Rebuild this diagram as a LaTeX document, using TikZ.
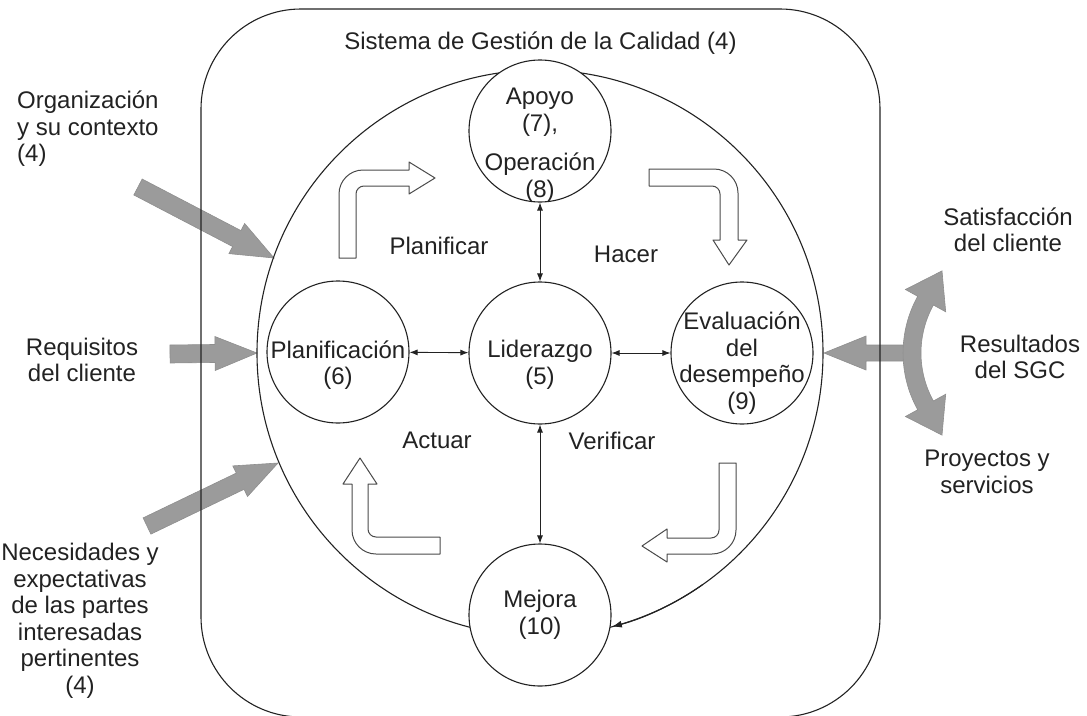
\documentclass[tikz,border=0pt]{standalone}
\usepackage{fontspec}
\setmainfont{Liberation Sans}
\usetikzlibrary{calc,arrows.meta}

\definecolor{ink}{HTML}{222222}
\definecolor{edge}{HTML}{4A4A4A}
\definecolor{bulkgray}{HTML}{9B9B9B}
\definecolor{bulkedge}{HTML}{8E8E8E}

\tikzset{
  txt/.style={font=\fontsize{24}{26.5}\selectfont, text=ink, align=center, inner sep=0pt},
  ring/.style={circle, draw=ink, line width=1.1pt, fill=white, minimum size=142pt, inner sep=0pt},
  cyc/.style={draw=ink, line width=1.1pt},
  frame/.style={draw=ink, line width=1.1pt},
  link/.style={draw=ink, line width=0.9pt, {Latex[length=8pt,width=6pt]}-{Latex[length=8pt,width=6pt]}},
  hollow/.style={draw=edge, line width=1pt, fill=white, line join=round},
  bulk/.style={fill=bulkgray, draw=bulkedge, line width=0.6pt, line join=miter},
}

% broad grey arrow from a tail coordinate to a tip coordinate
\newcommand\fatarrow[4]{% tail, tip, half shaft, half head
  \coordinate (#1-h) at ($(#2)!42pt!(#1)$);
  \path[bulk] ($(#1)!#3!90:(#2)$) -- ($(#1-h)!#3!90:(#2)$) -- ($(#1-h)!#4!90:(#2)$)
    -- (#2) -- ($(#1-h)!#4!-90:(#2)$) -- ($(#1-h)!#3!-90:(#2)$) -- ($(#1)!#3!-90:(#2)$) -- cycle;
}

\begin{document}
\begin{tikzpicture}[x=1pt,y=-1pt]
\useasboundingbox (0,0) rectangle (1087,715);

% inputs on the left
\coordinate (inOrgT) at (138,187); \coordinate (inOrg) at (274,258);
\coordinate (inReqT) at (170,354); \coordinate (inReq) at (257,353);
\coordinate (inNecT) at (147,526); \coordinate (inNec) at (278,463);
\fatarrow{inOrgT}{inOrg}{9pt}{17pt}
\fatarrow{inReqT}{inReq}{9pt}{17pt}
\fatarrow{inNecT}{inNec}{9pt}{17pt}

% results on the right
\coordinate (resT) at (915,353); \coordinate (resIn) at (824,353);
\fatarrow{resT}{resIn}{8pt}{17pt}
\path[bulk] (933.4,401) arc[start angle=151,end angle=209,radius=99]
  -- (945.7,311.8) -- (942,270.9) -- (905.4,289.5) -- (917.7,296.3)
  arc[start angle=209,end angle=151,radius=117]
  -- (905.4,416.5) -- (942,435.1) -- (945.7,394.2) -- cycle;

% quality management system frame
\begin{scope}
  \clip (0,0) rectangle (1087,715);
  \draw[frame, rounded corners=100pt] (201,9) rectangle (880,717);
\end{scope}
\node[txt] (title) at (540.5,43) {Sistema de Gestión de la Calidad (4)};

% PDCA cycle
\draw[cyc] (540,353) circle[radius=283];

\node[ring] (apoyo) at (540,131) {};
\node[ring] (lider) at (540,353) {};
\node[ring] (plan) at (338,352) {};
\node[ring] (eval) at (742,353) {};
\node[ring] (mejora) at (540,615) {};

\draw[cyc, -{Latex[length=10pt,width=7pt]}] (540,353) ++(55:283) arc[start angle=55,end angle=75.3,radius=283];

\draw[link] (lider) -- (plan);
\draw[link] (lider) -- (eval);
\draw[link] (lider) -- (apoyo);
\draw[link] (lider) -- (mejora);

% circle labels
\node[txt] (tApoyo) at (540,145) {Apoyo\\(7),\\[13pt]Operación\\(8)};
\node[txt] (tLider) at (540,365) {Liderazgo\\(5)};
\node[txt] (tPlan) at (338,365) {Planificación\\(6)};
\node[txt] (tEval) at (742,363) {Evaluación\\del\\desempeño\\(9)};
\node[txt] (tMejora) at (540,615) {Mejora\\(10)};

% bent hollow arrows
\path[hollow] (339,258) -- (339,194) arc[start angle=180,end angle=270,radius=24]
  -- (409,170) -- (409,162) -- (435,178) -- (409,194) -- (409,186) -- (364,186)
  arc[start angle=270,end angle=180,radius=8] -- (356,258) -- cycle;
\path[hollow] (649,169) -- (714,169) arc[start angle=270,end angle=360,radius=24]
  -- (738,240) -- (747,240) -- (729,265) -- (713,240) -- (720,240) -- (720,194)
  arc[start angle=0,end angle=-90,radius=8] -- (649,186) -- cycle;
\path[hollow] (440,554) -- (376,554) arc[start angle=90,end angle=180,radius=24]
  -- (352,484) -- (343,484) -- (360,458) -- (377,484) -- (368,484) -- (368,529)
  arc[start angle=180,end angle=90,radius=8] -- (440,537) -- cycle;
\path[hollow] (719,463) -- (736,463) -- (736,530) arc[start angle=0,end angle=90,radius=24]
  -- (667,554) -- (667,562) -- (642,546) -- (667,529) -- (667,538) -- (711,538)
  arc[start angle=90,end angle=0,radius=8] -- cycle;

% phase labels
\node[txt] (planificar) at (439,246) {Planificar};
\node[txt] (hacer) at (626,254) {Hacer};
\node[txt] (actuar) at (437,440) {Actuar};
\node[txt] (verificar) at (612,441) {Verificar};

% outside texts
\node[txt, anchor=west, align=left] (org) at (17,129) {Organización\\y su contexto\\(4)};
\node[txt] (req) at (82,360) {Requisitos\\del cliente};
\node[txt] (nec) at (80,621) {Necesidades y\\expectativas\\de las partes\\interesadas\\pertinentes\\(4)};
\node[txt] (sat) at (1008,230) {Satisfacción\\del cliente};
\node[txt] (res) at (1020,357) {Resultados\\del SGC};
\node[txt] (proy) at (987,472) {Proyectos y\\servicios};
\end{tikzpicture}
\end{document}
